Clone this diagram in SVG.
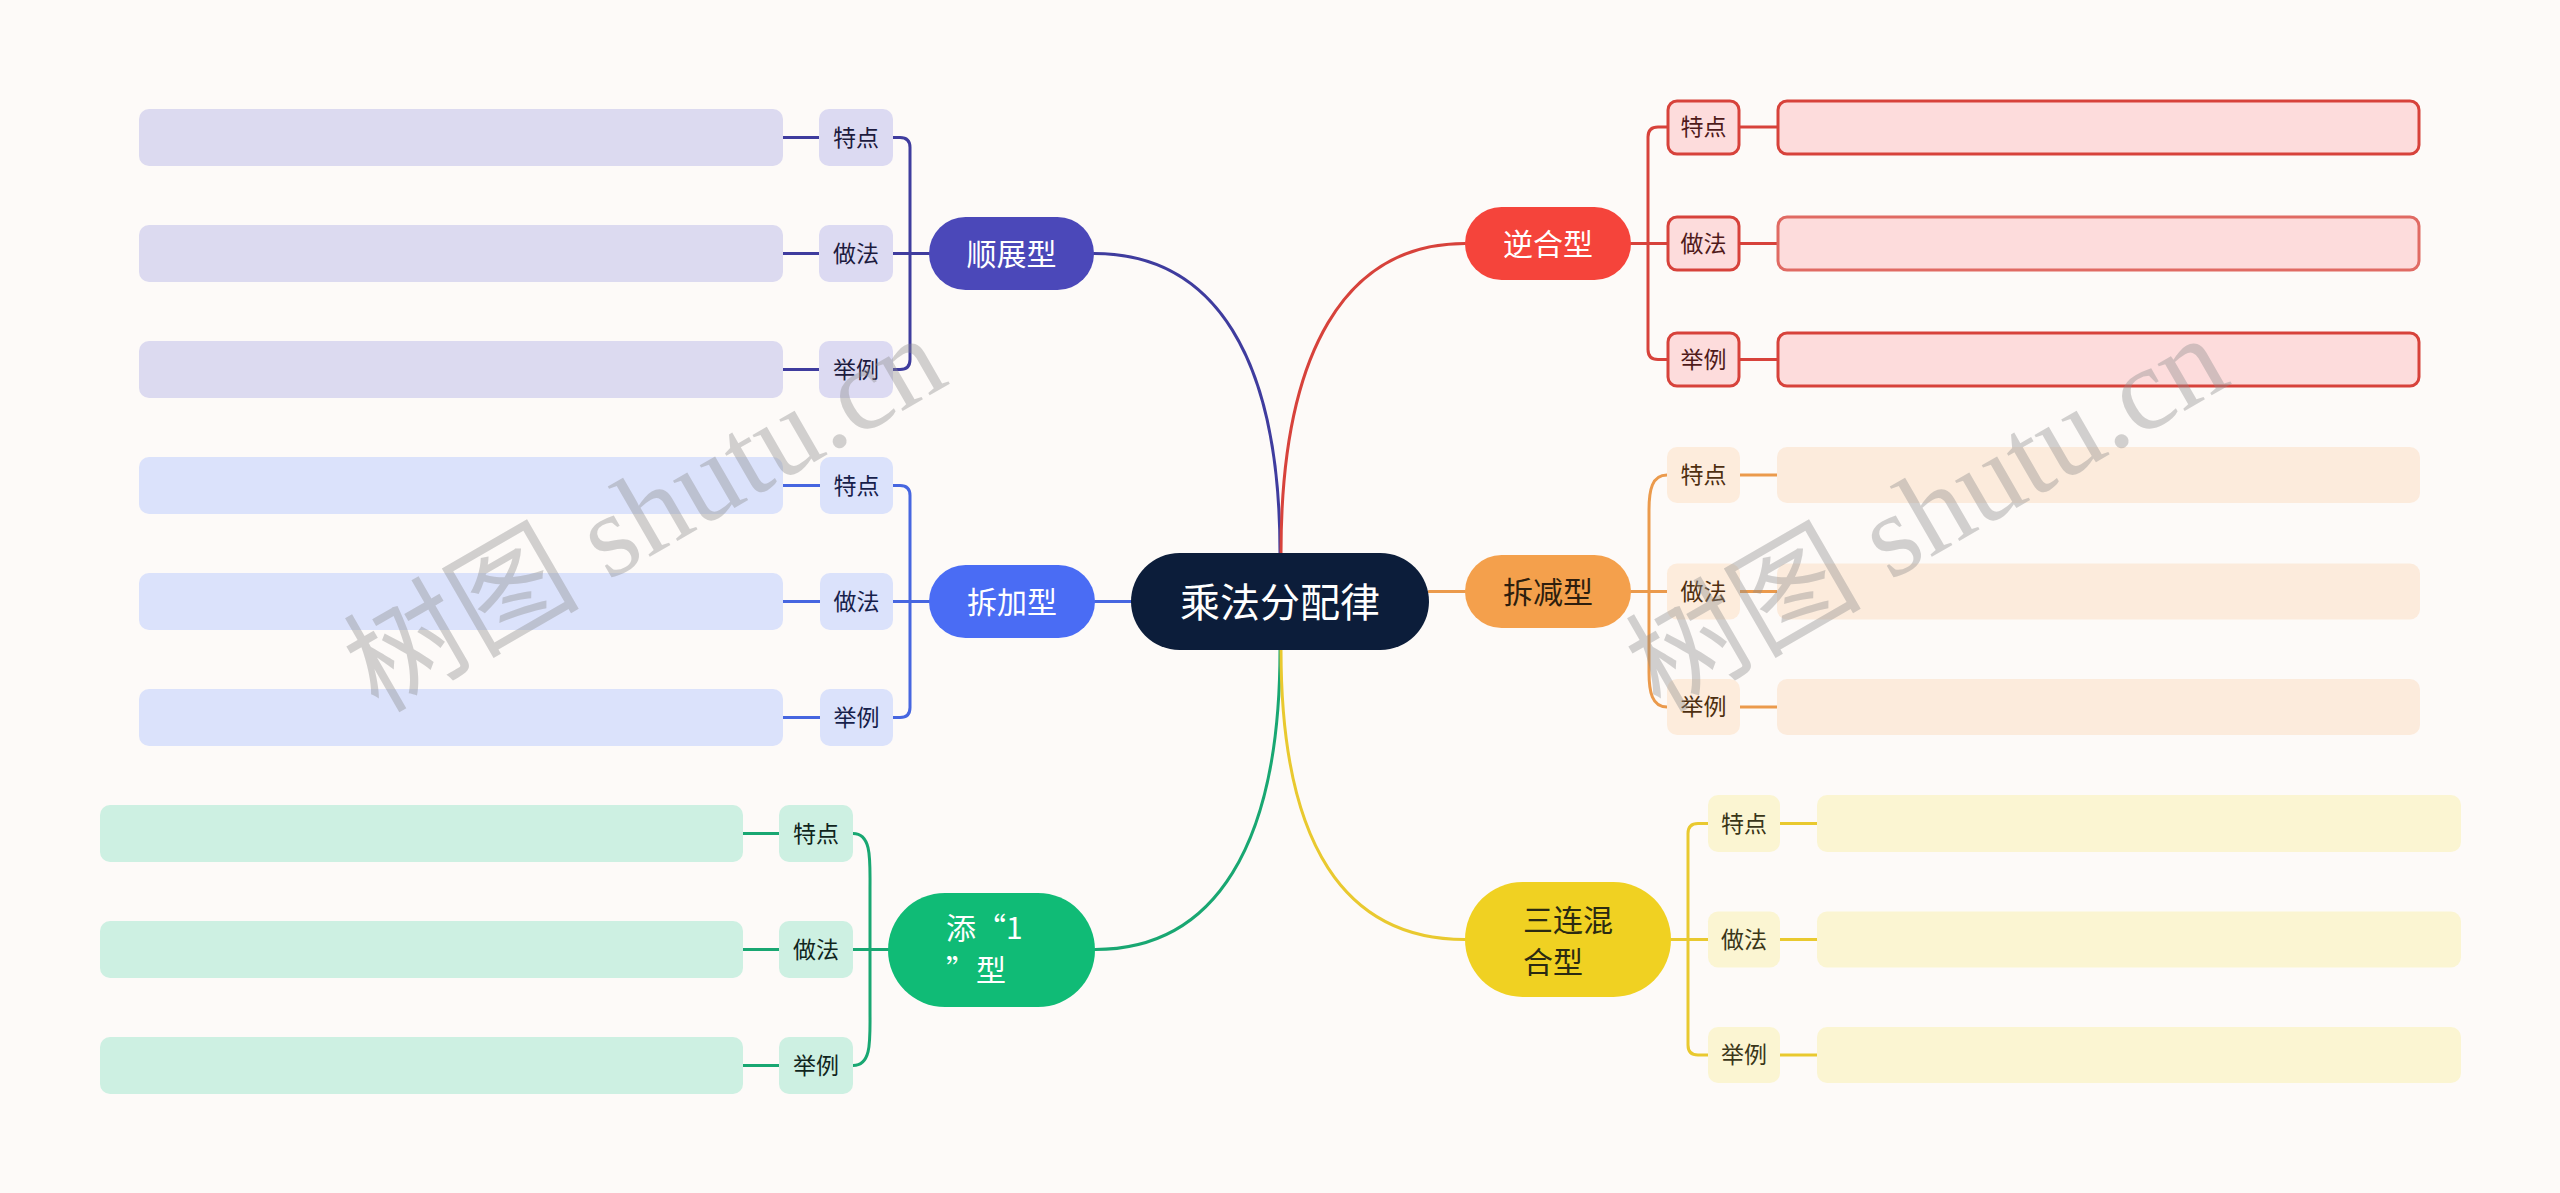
<svg xmlns="http://www.w3.org/2000/svg" width="2560" height="1193" viewBox="0 0 2560 1193">
<style>
.t{font-family:"Noto Sans CJK SC","Noto Sans",sans-serif;dominant-baseline:central;transform:translate(0px,-2px)}
.main{font-size:30px}
.lab{font-size:23px;text-anchor:middle}
.c{fill:none;stroke-width:3;stroke-linecap:round}
.wm{font-family:"Liberation Serif","Noto Sans CJK SC",serif;font-size:118px;fill:#8c8c8c;opacity:0.38;text-anchor:middle;dominant-baseline:central}
</style>
<rect width="2560" height="1193" fill="#fdfaf8"/>
<g id="connectors">
  <path class="c" stroke="#3f3c9e" d="M1280 553 C1280 358 1215 253.5 1094 253.5"/>
  <path class="c" stroke="#d7423b" d="M1281 553 C1281 352 1345 243.5 1465 243.5"/>
  <path class="c" stroke="#19a772" d="M1280 650 C1280 845 1215 949.5 1095 949.5"/>
  <path class="c" stroke="#e9c92f" d="M1281 650 C1281 845 1345 939.5 1465 939.5"/>
  <path class="c" stroke="#4766e0" d="M1131 601.5 H1095"/>
  <path class="c" stroke="#eb9a4c" d="M1429 591.5 H1465"/>
  <path class="c" stroke="#3f3c9e" d="M929 253.5 H893 M893 137.5 H900 Q910 137.5 910 147.5 V359.5 Q910 369.5 900 369.5 H893 M783 137.5 H819 M783 253.5 H819 M783 369.5 H819"/>
  <path class="c" stroke="#4766e0" d="M929 601.5 H893 M893 485.5 H900 Q910 485.5 910 495.5 V707.5 Q910 717.5 900 717.5 H893 M783 485.5 H820 M783 601.5 H820 M783 717.5 H820"/>
  <path class="c" stroke="#19a772" d="M888 949.5 H853 M853 833.5 C872 833.5 870 860 870 890 V1010 C870 1040 872 1065.5 853 1065.5 M743 833.5 H779 M743 949.5 H779 M743 1065.5 H779"/>
  <path class="c" stroke="#d7423b" d="M1631 243.5 H1667 M1667 127 H1658 Q1648 127 1648 137 V349.5 Q1648 359.5 1658 359.5 H1667 M1740 127 H1777 M1740 243.5 H1777 M1740 359.5 H1777"/>
  <path class="c" stroke="#eb9a4c" d="M1631 591.5 H1667 M1667 475 C1652 475 1649 490 1649 510 V672 C1649 692 1652 707 1667 707 M1740 475 H1777 M1740 591.5 H1777 M1740 707 H1777"/>
  <path class="c" stroke="#e9c92f" d="M1671 939.5 H1708 M1708 823.5 H1698 Q1688 823.5 1688 833.5 V1045 Q1688 1055 1698 1055 H1708 M1780 823.5 H1817 M1780 939.5 H1817 M1780 1055 H1817"/>
</g>

<g id="center">
  <rect x="1131" y="553" width="298" height="97" rx="48.5" fill="#0c1d3a"/>
  <text class="t" x="1280" y="601.5" font-size="40" fill="#ffffff" text-anchor="middle">乘法分配律</text>
</g>

<g id="shunzhan">
  <rect x="929" y="217" width="165" height="73" rx="36.5" fill="#4b48b9"/>
  <text class="t main" x="1011.5" y="253.5" fill="#fff" text-anchor="middle">顺展型</text>
</g>
<g id="shunzhan-items">
  <rect x="139" y="109" width="644" height="57" rx="10" fill="#dcdaf0"/>
  <rect x="139" y="225" width="644" height="57" rx="10" fill="#dcdaf0"/>
  <rect x="139" y="341" width="644" height="57" rx="10" fill="#dcdaf0"/>
  <rect x="819" y="109" width="74" height="57" rx="10" fill="#dcdaf2"/>
  <rect x="819" y="225" width="74" height="57" rx="10" fill="#dcdaf2"/>
  <rect x="819" y="341" width="74" height="57" rx="10" fill="#dcdaf2"/>
  <text class="t lab" x="856" y="137.5" fill="#1d1b3e">特点</text>
  <text class="t lab" x="856" y="253.5" fill="#1d1b3e">做法</text>
  <text class="t lab" x="856" y="369.5" fill="#1d1b3e">举例</text>
</g>

<g id="chaijia">
  <rect x="929" y="565" width="166" height="73" rx="36.5" fill="#4a6cf4"/>
  <text class="t main" x="1012" y="601.5" fill="#fff" text-anchor="middle">拆加型</text>
</g>
<g id="chaijia-items">
  <rect x="139" y="457" width="644" height="57" rx="10" fill="#dbe2fb"/>
  <rect x="139" y="573" width="644" height="57" rx="10" fill="#dbe2fb"/>
  <rect x="139" y="689" width="644" height="57" rx="10" fill="#dbe2fb"/>
  <rect x="820" y="457" width="73" height="57" rx="10" fill="#dbe2fb"/>
  <rect x="820" y="573" width="73" height="57" rx="10" fill="#dbe2fb"/>
  <rect x="820" y="689" width="73" height="57" rx="10" fill="#dbe2fb"/>
  <text class="t lab" x="856.5" y="485.5" fill="#16204a">特点</text>
  <text class="t lab" x="856.5" y="601.5" fill="#16204a">做法</text>
  <text class="t lab" x="856.5" y="717.5" fill="#16204a">举例</text>
</g>

<g id="tian1">
  <rect x="888" y="893" width="207" height="114" rx="57" fill="#10bb76"/>
  <text class="t main" x="946" y="928" fill="#fff">添“1</text>
  <text class="t main" x="946" y="970" fill="#fff">”型</text>
</g>
<g id="tian1-items">
  <rect x="100" y="805" width="643" height="57" rx="10" fill="#cdf0e2"/>
  <rect x="100" y="921" width="643" height="57" rx="10" fill="#cdf0e2"/>
  <rect x="100" y="1037" width="643" height="57" rx="10" fill="#cdf0e2"/>
  <rect x="779" y="805" width="74" height="57" rx="10" fill="#cdf0e2"/>
  <rect x="779" y="921" width="74" height="57" rx="10" fill="#cdf0e2"/>
  <rect x="779" y="1037" width="74" height="57" rx="10" fill="#cdf0e2"/>
  <text class="t lab" x="816" y="833.5" fill="#10251c">特点</text>
  <text class="t lab" x="816" y="949.5" fill="#10251c">做法</text>
  <text class="t lab" x="816" y="1065.5" fill="#10251c">举例</text>
</g>

<g id="nihe">
  <rect x="1465" y="207" width="166" height="73" rx="36.5" fill="#f5443b"/>
  <text class="t main" x="1548" y="243.5" fill="#fff" text-anchor="middle">逆合型</text>
</g>
<g id="nihe-items" stroke="#d7423b" stroke-width="3">
  <rect x="1668" y="101" width="71" height="53" rx="9" fill="#fddcdc"/>
  <rect x="1668" y="217" width="71" height="53" rx="9" fill="#fddcdc"/>
  <rect x="1668" y="333" width="71" height="53" rx="9" fill="#fddcdc"/>
  <rect x="1778" y="101" width="641" height="53" rx="9" fill="#fddcdc"/>
  <rect x="1778" y="217" width="641" height="53" rx="9" fill="#fddcdc" stroke="#e06a63"/>
  <rect x="1778" y="333" width="641" height="53" rx="9" fill="#fddcdc"/>
  <text class="t lab" x="1703.5" y="127" fill="#4f1a1a" stroke="none">特点</text>
  <text class="t lab" x="1703.5" y="243.5" fill="#4f1a1a" stroke="none">做法</text>
  <text class="t lab" x="1703.5" y="359.5" fill="#4f1a1a" stroke="none">举例</text>
</g>

<g id="chaijian">
  <rect x="1465" y="555" width="166" height="73" rx="36.5" fill="#f4a04c"/>
  <text class="t main" x="1548" y="591.5" fill="#2e1e0e" text-anchor="middle">拆减型</text>
</g>
<g id="chaijian-items">
  <rect x="1667" y="447" width="73" height="56" rx="10" fill="#fdecdc"/>
  <rect x="1667" y="563.5" width="73" height="56" rx="10" fill="#fdecdc"/>
  <rect x="1667" y="679" width="73" height="56" rx="10" fill="#fdecdc"/>
  <rect x="1777" y="447" width="643" height="56" rx="10" fill="#fcebdc"/>
  <rect x="1777" y="563.5" width="643" height="56" rx="10" fill="#fcebdc"/>
  <rect x="1777" y="679" width="643" height="56" rx="10" fill="#fcebdc"/>
  <text class="t lab" x="1703.5" y="475" fill="#4e2f10">特点</text>
  <text class="t lab" x="1703.5" y="591.5" fill="#4e2f10">做法</text>
  <text class="t lab" x="1703.5" y="707" fill="#4e2f10">举例</text>
</g>

<g id="sanlian">
  <rect x="1465" y="882" width="206" height="115" rx="57.5" fill="#f0d122"/>
  <text class="t main" x="1523" y="920" fill="#2b2a12">三连混</text>
  <text class="t main" x="1523" y="962" fill="#2b2a12">合型</text>
</g>
<g id="sanlian-items">
  <rect x="1708" y="795" width="72" height="57" rx="10" fill="#fbf5d2"/>
  <rect x="1708" y="911.5" width="72" height="56" rx="10" fill="#fbf5d2"/>
  <rect x="1708" y="1027" width="72" height="56" rx="10" fill="#fbf5d2"/>
  <rect x="1817" y="795" width="644" height="57" rx="10" fill="#fbf5d2"/>
  <rect x="1817" y="911.5" width="644" height="56" rx="10" fill="#fbf5d2"/>
  <rect x="1817" y="1027" width="644" height="56" rx="10" fill="#fbf5d2"/>
  <text class="t lab" x="1744" y="823.5" fill="#3a3618">特点</text>
  <text class="t lab" x="1744" y="939.5" fill="#3a3618">做法</text>
  <text class="t lab" x="1744" y="1055" fill="#3a3618">举例</text>
</g>

<g id="watermark">
  <text class="wm" transform="translate(645 514) rotate(-30)">树图 shutu.cn</text>
  <text class="wm" transform="translate(1927 514) rotate(-30)">树图 shutu.cn</text>
</g>
</svg>
